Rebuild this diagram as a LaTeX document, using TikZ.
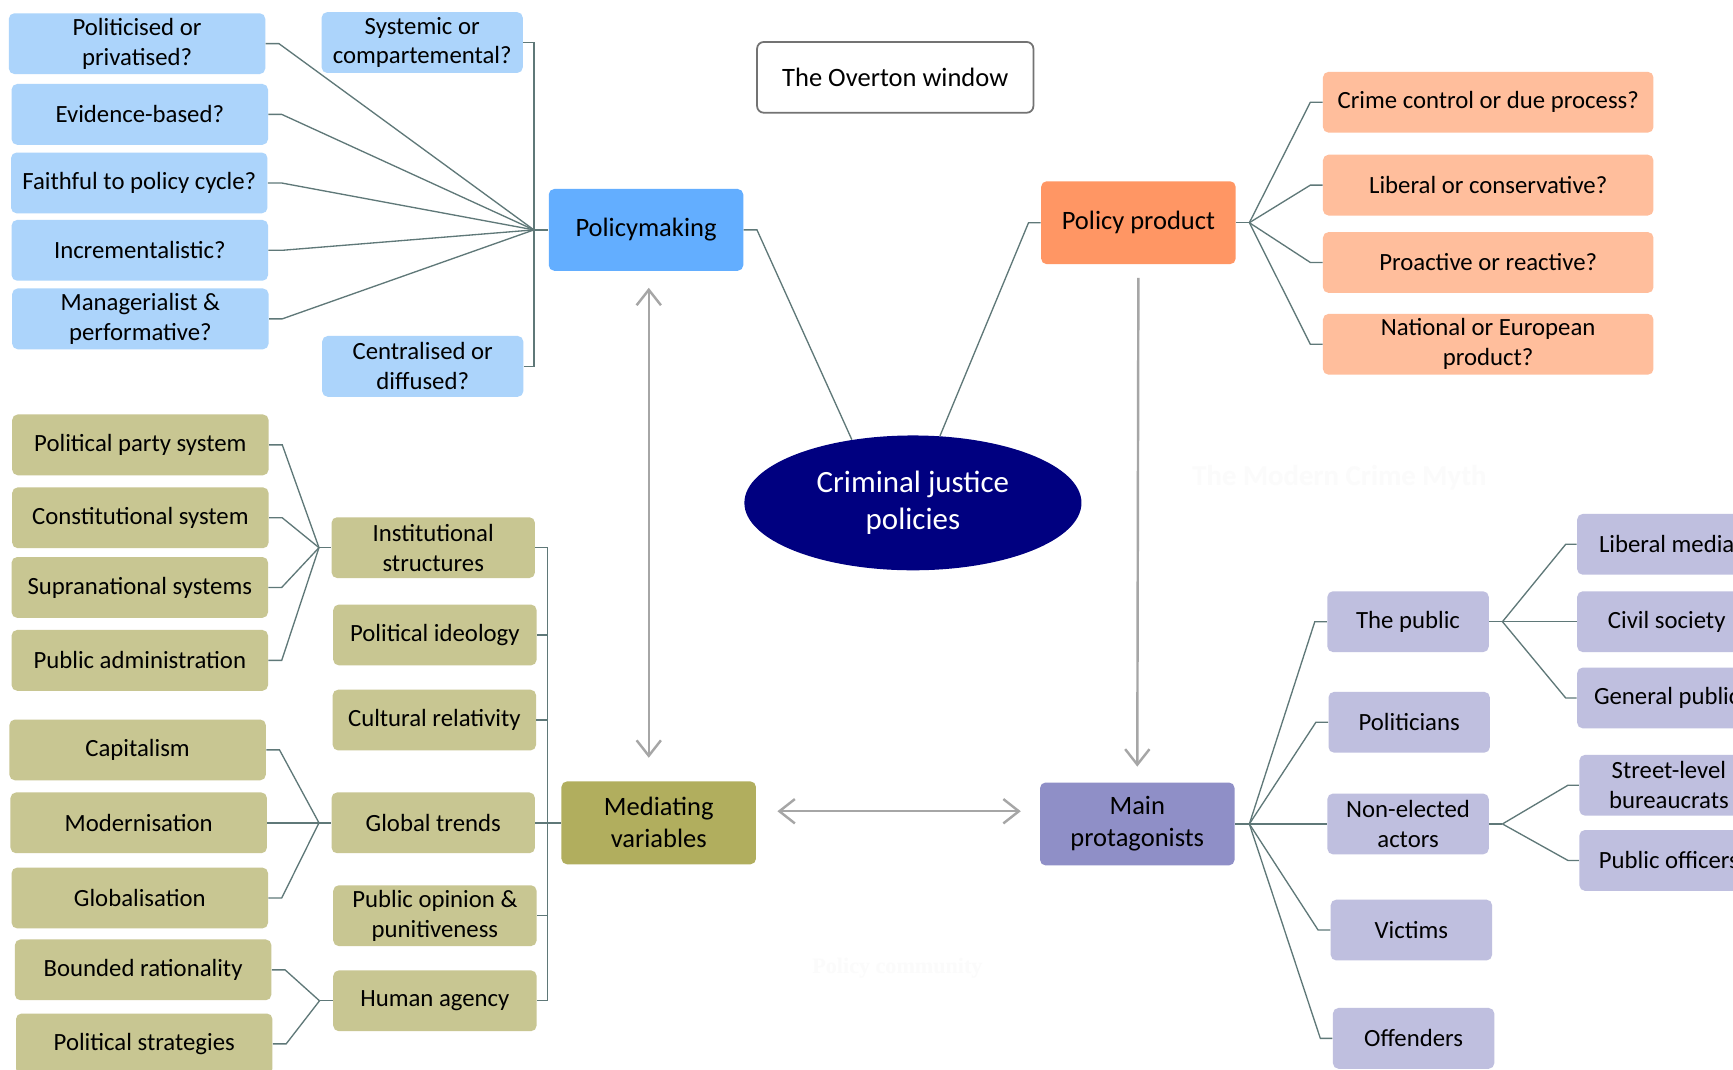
\documentclass[tikz,border=0pt]{standalone}
\usepackage{fontspec}
\setmainfont{Carlito}
\newfontfamily\ghostserif{Liberation Serif}
\usepackage{xcolor}
\usetikzlibrary{shapes.geometric, arrows.meta, calc, positioning}

\definecolor{pmBlue}{RGB}{99,174,255}
\definecolor{qBlue}{RGB}{172,212,251}
\definecolor{ppOrange}{RGB}{255,150,100}
\definecolor{qOrange}{RGB}{255,190,156}
\definecolor{mvOlive}{RGB}{177,174,94}
\definecolor{qOlive}{RGB}{200,198,146}
\definecolor{mpPurple}{RGB}{143,143,199}
\definecolor{qPurple}{RGB}{191,191,223}
\definecolor{cjpNavy}{RGB}{0,0,128}
\definecolor{linkGrey}{RGB}{95,120,120}
\definecolor{flowGrey}{RGB}{166,166,166}
\definecolor{ghostGrey}{RGB}{251,251,251}

\tikzset{
    box/.style={rectangle, rounded corners=2.5pt, inner sep=0pt, align=center,
        minimum height=27.5pt, font=\fontsize{11.2}{13.5}\selectfont},
    qblue/.style={box, fill=qBlue},
    qorange/.style={box, fill=qOrange, minimum width=149.5pt},
    qolive/.style={box, fill=qOlive},
    qpurple/.style={box, fill=qPurple},
    mainbox/.style={rectangle, rounded corners=2.5pt, inner sep=0pt, align=center,
        minimum width=88pt, minimum height=37.5pt, font=\fontsize{12}{14.5}\selectfont},
    link/.style={draw=linkGrey, line width=0.6pt},
    flow/.style={draw=flowGrey, line width=1.1pt, >={Straight Barb[length=7pt,width=11pt]}},
}

\begin{document}
\begin{tikzpicture}[x=0.5pt, y=-0.5pt]
    % page frame
    \useasboundingbox (0,0) rectangle (1568,968);
    \fill[white] (0,0) rectangle (1568,968);

    % faint watermarks
    \node[text=ghostGrey, font=\fontsize{13}{15}\selectfont\bfseries] (myth) at (1212,432) {The Modern Crime Myth};
    \node[text=ghostGrey, font=\ghostserif\fontsize{10}{12}\selectfont\bfseries] (commun) at (812,876) {Policy community};

    % Central node and the four branches
    \node[ellipse, fill=cjpNavy, text=white, minimum width=152.5pt, minimum height=61pt,
        inner sep=0pt, align=center, font=\fontsize{14}{17}\selectfont] (cjp) at (826,455) {Criminal justice\\policies};
    \node[mainbox, fill=pmBlue, minimum height=37pt] (pm) at (584.5,208) {Policymaking};
    \node[mainbox, fill=ppOrange] (pp) at (1030,201.5) {Policy product};
    \node[mainbox, fill=mvOlive] (mv) at (596,744.5) {Mediating\\variables};
    \node[mainbox, fill=mpPurple] (mp) at (1029,745.5) {Main\\protagonists};

    \node[box, draw=black!55, line width=0.8pt, rounded corners=3pt, fill=white,
        minimum width=125pt, minimum height=32pt, font=\fontsize{12}{14}\selectfont] (overton) at (810,70) {The Overton window};

    % Policymaking questions
    \node[qblue, minimum width=116pt] (polit) at (124,39.5) {Politicised or\\privatised?};
    \node[qblue, minimum width=116pt] (evid) at (126.5,103.5) {Evidence-based?};
    \node[qblue, minimum width=116pt] (faith) at (126,165.5) {Faithful to policy cycle?};
    \node[qblue, minimum width=116pt] (incr) at (126.5,226.5) {Incrementalistic?};
    \node[qblue, minimum width=116pt] (manag) at (127,288.5) {Managerialist \&\\performative?};
    \node[qblue, minimum width=91pt] (syst) at (382,38.5) {Systemic or\\compartemental?};
    \node[qblue, minimum width=91pt] (centr) at (382.5,331.5) {Centralised or\\diffused?};

    \coordinate (pmHub) at ($(pm.west)+(-13,0)$);
    \foreach \n in {polit,evid,faith,incr,manag}
        \draw[link] (\n.east) -- ++(12,0) -- (pmHub);
    \draw[link] (syst.east) -| (pmHub);
    \draw[link] (centr.east) -| (pmHub);
    \draw[link] (pmHub) -- (pm.west);

    % Policy product questions
    \node[qorange] (crime) at (1346.5,92.5) {Crime control or due process?};
    \node[qorange] (libcon) at (1346.5,167.5) {Liberal or conservative?};
    \node[qorange] (proact) at (1346.5,237.5) {Proactive or reactive?};
    \node[qorange] (natio) at (1346.5,311.5) {National or European\\product?};

    \coordinate (ppHub) at ($(pp.east)+(12,0)$);
    \draw[link] (pp.east) -- (ppHub);
    \foreach \n in {crime,libcon,proact,natio}
        \draw[link] (ppHub) -- ($(\n.west)+(-11,0)$) -- (\n.west);

    % links into the policies
    \draw[link] (pm.east) -- ++(12,0) -- (cjp.134);
    \draw[link] (pp.west) -- ++(-11,0) -- (cjp.68);

    % Mediating variables
    \node[qolive, minimum width=92pt] (inst) at (392,495.5) {Institutional\\structures};
    \node[qolive, minimum width=92pt] (ideo) at (393.5,574.5) {Political ideology};
    \node[qolive, minimum width=92pt] (cult) at (393,651.5) {Cultural relativity};
    \node[qolive, minimum width=92pt] (glob) at (392,744.5) {Global trends};
    \node[qolive, minimum width=92pt] (opin) at (393.5,828.5) {Public opinion \&\\punitiveness};
    \node[qolive, minimum width=92pt] (agen) at (393.5,905.5) {Human agency};

    \coordinate (mvHub) at ($(mv.west)+(-12,0)$);
    \foreach \n in {inst,ideo,cult,glob,opin,agen}
        \draw[link] (\n.east) -| (mvHub);
    \draw[link] (mvHub) -- (mv.west);

    \node[qolive, minimum width=116pt] (party) at (127,402.5) {Political party system};
    \node[qolive, minimum width=116pt] (const) at (127,468.5) {Constitutional system};
    \node[qolive, minimum width=116pt] (supra) at (126.5,531.5) {Supranational systems};
    \node[qolive, minimum width=116pt] (admin) at (126.5,597.5) {Public administration};
    \node[qolive, minimum width=116pt] (capit) at (124.5,678.5) {Capitalism};
    \node[qolive, minimum width=116pt] (modern) at (125.5,744.5) {Modernisation};
    \node[qolive, minimum width=116pt] (globa) at (126.5,812.5) {Globalisation};
    \node[qolive, minimum width=116pt] (bound) at (129.5,877.5) {Bounded rationality};
    \node[qolive, minimum width=116pt] (strat) at (130.5,944.5) {Political strategies};

    \coordinate (instHub) at ($(inst.west)+(-11,0)$);
    \foreach \n in {party,const,supra,admin}
        \draw[link] (\n.east) -- ++(12,0) -- (instHub);
    \draw[link] (instHub) -- (inst.west);
    \coordinate (globHub) at ($(glob.west)+(-11,0)$);
    \foreach \n in {capit,modern,globa}
        \draw[link] (\n.east) -- ++(12,0) -- (globHub);
    \draw[link] (globHub) -- (glob.west);
    \coordinate (agenHub) at ($(agen.west)+(-12,0)$);
    \foreach \n in {bound,strat}
        \draw[link] (\n.east) -- ++(12,0) -- (agenHub);
    \draw[link] (agenHub) -- (agen.west);

    % Main protagonists
    \node[qpurple, minimum width=73pt] (public) at (1274,562.5) {The public};
    \node[qpurple, minimum width=73pt] (politi) at (1275,653.5) {Politicians};
    \node[qpurple, minimum width=73pt] (nonel) at (1274,745.5) {Non-elected\\actors};
    \node[qpurple, minimum width=73pt] (victim) at (1277,841.5) {Victims};
    \node[qpurple, minimum width=73pt] (offend) at (1279,939.5) {Offenders};

    \coordinate (mpHub) at ($(mp.east)+(13,0)$);
    \draw[link] (mp.east) -- (mpHub);
    \foreach \n in {public,politi,nonel,victim,offend}
        \draw[link] (mpHub) -- ($(\n.west)+(-11,0)$) -- (\n.west);

    \node[qpurple, minimum width=81pt] (media) at (1508,492.5) {Liberal media};
    \node[qpurple, minimum width=81pt] (civil) at (1508,562.5) {Civil society};
    \node[qpurple, minimum width=81pt] (genpub) at (1508,631.5) {General public};
    \node[qpurple, minimum width=81pt] (street) at (1510,710.5) {Street-level\\bureaucrats};
    \node[qpurple, minimum width=81pt] (officer) at (1510,778.5) {Public officers};

    \coordinate (pubHub) at ($(public.east)+(12,0)$);
    \draw[link] (public.east) -- (pubHub);
    \foreach \n in {media,civil,genpub}
        \draw[link] (pubHub) -- ($(\n.west)+(-10,0)$) -- (\n.west);
    \coordinate (nonHub) at ($(nonel.east)+(12,0)$);
    \draw[link] (nonel.east) -- (nonHub);
    \foreach \n in {street,officer}
        \draw[link] (nonHub) -- ($(\n.west)+(-10,0)$) -- (\n.west);

    % grey flows between branches
    \draw[flow, <->] ($(pm.south)+(2.5,15)$) -- ($(pm.south |- mv.north)+(2.5,-21)$);
    \draw[flow, <->] ($(mv.east)+(19,-10.5)$) -- ($(mp.west)+(-17,-11.5)$);
    \draw[flow, ->] ($(pp.south)+(0,12)$) -- ($(mp.north)+(0,-14)$);
\end{tikzpicture}
\end{document}
